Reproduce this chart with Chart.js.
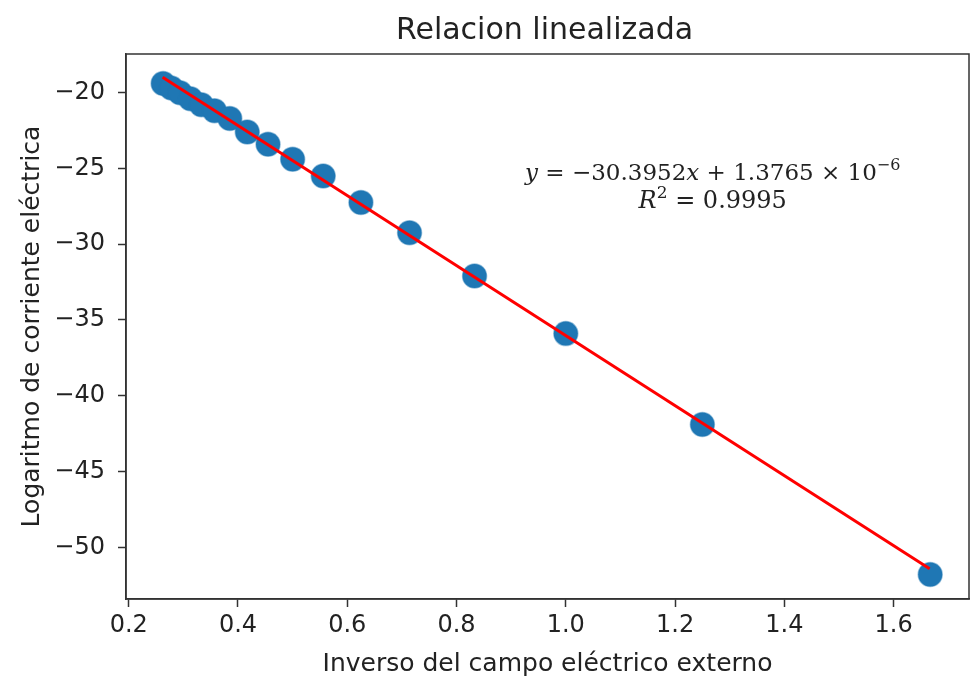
<!DOCTYPE html>
<html lang="es">
<head>
<meta charset="UTF-8">
<title>Relacion linealizada</title>
<script src="https://cdn.jsdelivr.net/npm/chart.js@4.4.3/dist/chart.umd.min.js"></script>
<style>
  body { margin: 0; background: #fff; }
  #grafica { display: block; }
</style>
</head>
<body>
<canvas id="grafica" width="971" height="683"></canvas>
<script>
// inverso del campo (1/E) y logaritmo de la corriente medida
const invCampo = [0.263, 0.278, 0.294, 0.313, 0.333, 0.357, 0.385, 0.417, 0.455,
                  0.500, 0.556, 0.625, 0.714, 0.833, 1.000, 1.250, 1.667];
const logCorriente = [-19.4, -19.7, -20.0, -20.4, -20.8, -21.2, -21.7, -22.6, -23.4,
                      -24.4, -25.5, -27.25, -29.25, -32.1, -35.9, -41.9, -51.8];

// extremos de la recta de ajuste
const ajusteX = [0.262, 1.666];
const ajusteY = [-18.98, -51.42];

const xTicks = [0.2, 0.4, 0.6, 0.8, 1.0, 1.2, 1.4, 1.6];
const yTicks = [-50, -45, -40, -35, -30, -25, -20];

const titulo = 'Relacion linealizada';
const ecuacion = [
  { t: 'y', it: true },
  { t: ' = \u221230.3952' },
  { t: 'x', it: true },
  { t: ' + 1.3765 \u00d7 10' },
  { t: '\u22126', sup: true }
];
const r2 = [
  { t: 'R', it: true },
  { t: '2', sup: true },
  { t: ' = 0.9995' }
];

const TXT = '#222';
const SANS = "'DejaVu Sans', sans-serif";
const SERIF = "'DejaVu Serif', serif";

function drawMath(ctx, parts, cx, y, size) {
  const fontOf = p => (p.it ? 'italic ' : '') + (p.sup ? Math.round(size * 0.7) : size) + 'px ' + SERIF;
  let total = 0;
  parts.forEach(p => { ctx.font = fontOf(p); total += ctx.measureText(p.t).width; });
  let x = cx - total / 2;
  parts.forEach(p => {
    ctx.font = fontOf(p);
    ctx.fillText(p.t, x, p.sup ? y - size * 0.42 : y);
    x += ctx.measureText(p.t).width;
  });
}

// marco completo, titulo y ecuacion del ajuste
const marco = {
  id: 'marco',
  afterDraw(chart) {
    const { ctx, chartArea: a } = chart;
    ctx.save();
    ctx.strokeStyle = '#333';
    ctx.lineWidth = 1.5;
    ctx.strokeRect(a.left, a.top, a.right - a.left, a.bottom - a.top);

    ctx.fillStyle = TXT;
    ctx.textAlign = 'center';
    ctx.textBaseline = 'alphabetic';
    ctx.font = '30px ' + SANS;
    ctx.fillText(titulo, (a.left + a.right) / 2 - 3, 39);

    ctx.textAlign = 'left';
    const cx = a.left + (a.right - a.left) * 0.696;
    drawMath(ctx, ecuacion, cx, 180, 23);
    drawMath(ctx, r2, cx, 208, 24);
    ctx.restore();
  }
};

new Chart(document.getElementById('grafica'), {
  type: 'scatter',
  data: {
    datasets: [
      {
        type: 'line',
        label: 'ajuste',
        data: ajusteX.map((x, i) => ({ x: x, y: ajusteY[i] })),
        borderColor: '#ff0000',
        borderWidth: 3,
        pointRadius: 0,
        fill: false,
        order: 0
      },
      {
        label: 'datos',
        data: invCampo.map((x, i) => ({ x: x, y: logCorriente[i] })),
        backgroundColor: '#1f77b4',
        borderColor: 'rgba(31,119,180,0.45)',
        borderWidth: 1.5,
        pointRadius: 12,
        order: 1
      }
    ]
  },
  options: {
    responsive: false,
    animation: false,
    layout: { autoPadding: false, padding: { top: 54, right: 2, left: 0, bottom: 0 } },
    plugins: {
      legend: { display: false },
      tooltip: { enabled: false }
    },
    scales: {
      x: {
        type: 'linear',
        min: 0.195,
        max: 1.738,
        afterBuildTicks: s => { s.ticks = xTicks.map(v => ({ value: v })); },
        afterFit: s => { s.height = 84; },
        grid: { drawOnChartArea: false, tickLength: 8, tickColor: '#333', tickWidth: 1.5 },
        border: { color: '#333', width: 1.5 },
        ticks: {
          color: TXT,
          padding: 4,
          maxRotation: 0,
          font: { family: SANS, size: 24 },
          callback: v => v.toFixed(1)
        },
        title: {
          display: true,
          text: 'Inverso del campo eléctrico externo',
          color: TXT,
          font: { family: SANS, size: 25 },
          padding: { top: 4, bottom: 4 }
        }
      },
      y: {
        type: 'linear',
        min: -53.41,
        max: -17.45,
        afterBuildTicks: s => { s.ticks = yTicks.map(v => ({ value: v })); },
        afterFit: s => { s.width = 126; },
        grid: { drawOnChartArea: false, tickLength: 8, tickColor: '#333', tickWidth: 1.5 },
        border: { color: '#333', width: 1.5 },
        ticks: {
          color: TXT,
          padding: 13,
          font: { family: SANS, size: 24 },
          callback: v => '\u2212' + Math.abs(v)
        },
        title: {
          display: true,
          text: 'Logaritmo de corriente eléctrica',
          color: TXT,
          font: { family: SANS, size: 25 },
          padding: { top: 17, bottom: 17 }
        }
      }
    }
  },
  plugins: [marco]
});
</script>
</body>
</html>
